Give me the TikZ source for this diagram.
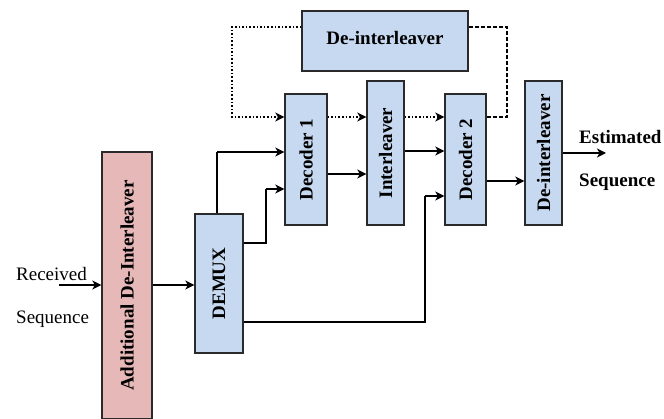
\documentclass[tikz,border=0pt]{standalone}
\usepackage{fontspec}
\usepackage{graphicx}
\setmainfont{Liberation Serif}
\usetikzlibrary{arrows.meta}
\definecolor{boxblue}{HTML}{C6D9F0}
\definecolor{boxpink}{HTML}{E6B9B8}
\definecolor{edge}{HTML}{2A2A2A}
\tikzset{
  blk/.style={draw=edge, line width=1.3pt, inner sep=0pt, font=\fontsize{19}{22}\selectfont\bfseries},
  bluebox/.style={blk, fill=boxblue},
  pinkbox/.style={blk, fill=boxpink},
  lbl/.style={anchor=west, inner sep=0pt, font=\fontsize{19}{22}\selectfont},
  tip/.style={-{Stealth[length=9pt,width=9pt,inset=2.5pt]}},
  thickarr/.style={tip, line width=2pt},
  thinln/.style={line width=1.1pt},
  dotarr/.style={tip, line width=1.6pt, dotted},
  dashln/.style={line width=1.3pt, dash pattern=on 4pt off 2pt}
}
\begin{document}
\begin{tikzpicture}[x=1pt,y=-1pt]
\useasboundingbox (0,0) rectangle (664,419);
% blocks
\node[bluebox, minimum width=166pt, minimum height=60pt] (top) at (385,41) {\raisebox{7pt}{De-interleaver}};
\node[bluebox, minimum width=42pt, minimum height=131pt] (dec1) at (306,159.5) {\rotatebox{90}{Decoder 1}};
\node[bluebox, minimum width=37pt, minimum height=144pt] (inter) at (385.5,153) {\rotatebox{90}{Interleaver}};
\node[bluebox, minimum width=41pt, minimum height=131pt] (dec2) at (465.5,159.5) {\rotatebox{90}{Decoder 2}};
\node[bluebox, minimum width=37pt, minimum height=144pt] (deint) at (543.5,153) {\rotatebox{90}{De-interleaver}};
\node[bluebox, minimum width=48pt, minimum height=139pt] (demux) at (219,283.5) {\rotatebox{90}{DEMUX}};
\node[pinkbox, minimum width=50pt, minimum height=267pt] (add) at (127,285.5) {\rotatebox{90}{Additional De-Interleaver}};
% labels
\node[lbl] (rec) at (16,274) {Received};
\node[lbl] (seqa) at (16,319) {Sequence};
\node[lbl, font=\fontsize{19}{22}\selectfont\bfseries] (est) at (579,137) {Estimated};
\node[lbl, font=\fontsize{19}{22}\selectfont\bfseries] (seqb) at (579,182) {Sequence};
% coordinates
\coordinate (rin) at (59,285);
\coordinate (lt) at (232,27);
\coordinate (lb) at (232,117);
\coordinate (rt) at (507,27);
\coordinate (rb) at (507,117);
\coordinate (out) at (606,153);
\coordinate (d1a) at (217,152);
\coordinate (d1b) at (266,189);
\coordinate (d2b) at (425,196);
% input path
\draw[thickarr] (rin) -- (rin -| add.west);
\draw[thickarr] (add.east |- rin) -- (rin -| demux.west);
% feedback loop
\draw[dotarr] (top.west |- lt) -- (lt) -- (lb) -- (lb -| dec1.west);
\draw[dotarr] (dec1.east |- lb) -- (lb -| inter.west);
\draw[dotarr] (inter.east |- lb) -- (lb -| dec2.west);
\draw[dashln] (dec2.east |- rb) -- (rb) -- (rt) -- (top.east |- rt);
% demux outputs
\draw[thinln] (demux.north -| d1a) -- (d1a);
\draw[thickarr] (d1a) -- (d1a -| dec1.west);
\draw[thinln] (demux.east |- 0,243) -| (d1b);
\draw[thickarr] (d1b) -- (d1b -| dec1.west);
\draw[thinln] (demux.east |- 0,322) -| (d2b);
\draw[thickarr] (d2b) -- (d2b -| dec2.west);
% main chain
\draw[thickarr] (dec1.east |- 0,174) -- (inter.west |- 0,174);
\draw[thickarr] (inter.east |- 0,151) -- (dec2.west |- 0,151);
\draw[thickarr] (dec2.east |- 0,181) -- (deint.west |- 0,181);
\draw[thickarr] (deint.east |- out) -- (out);
\end{tikzpicture}
\end{document}
